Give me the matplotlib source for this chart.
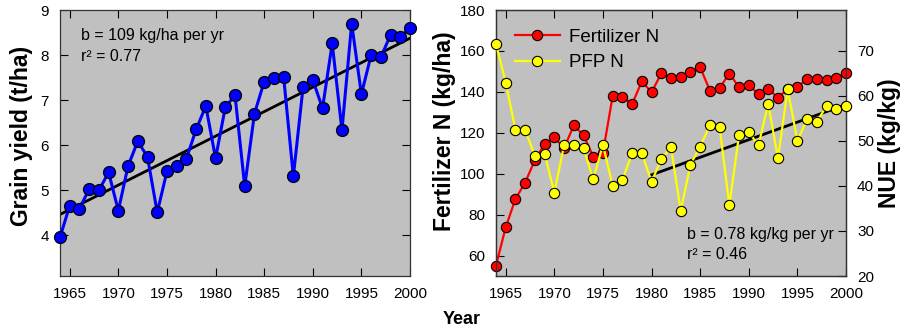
import numpy as np
import matplotlib
matplotlib.use("Agg")
import matplotlib.pyplot as plt

plt.rcParams['font.family'] = ['Liberation Sans', 'DejaVu Sans']

years = list(range(1964, 2001))

# grain yield (t/ha)
grain_yield = [3.96, 4.66, 4.59, 5.03, 5.00, 5.40, 4.55, 5.54, 6.09, 5.74,
               4.51, 5.42, 5.53, 5.70, 6.35, 6.87, 5.71, 6.84, 7.11, 5.09,
               6.70, 7.41, 7.50, 7.52, 5.31, 7.29, 7.45, 6.82, 8.26, 6.33,
               8.70, 7.13, 8.00, 7.95, 8.45, 8.41, 8.60]

# fertilizer N (kg/ha)
fert_n = [55.3, 74.0, 87.8, 95.8, 106.8, 114.6, 117.9, 112.6, 123.7, 118.9,
          108.5, 110.4, 138.0, 137.7, 134.1, 145.2, 139.8, 149.1, 146.8, 147.2,
          149.9, 152.0, 140.7, 142.0, 149.0, 142.3, 143.4, 138.9, 141.5, 137.2,
          141.5, 142.6, 146.2, 146.3, 146.0, 146.8, 149.4]

# partial factor productivity of N (kg/kg)
pfp_n = [71.5, 62.9, 52.4, 52.4, 46.6, 47.1, 38.5, 49.0, 49.1, 48.3,
         41.5, 49.1, 40.0, 41.3, 47.2, 47.2, 40.9, 45.9, 48.6, 34.5,
         44.7, 48.7, 53.4, 53.0, 35.7, 51.3, 51.9, 49.0, 58.2, 46.1,
         61.4, 50.0, 54.8, 54.2, 57.7, 57.1, 57.7]

x_ticks = [1965, 1970, 1975, 1980, 1985, 1990, 1995, 2000]
bg = '#c0c0c0'

fig = plt.figure(figsize=(9.03, 3.32), dpi=100)

# ---- left panel: grain yield
ax1 = fig.add_axes([60/903, 1 - 276/332, 350/903, 266/332])
ax1.set_facecolor(bg)
yrs = np.array(years)
b, a = np.polyfit(yrs, grain_yield, 1)
ax1.plot([1964, 2000], [a + b*1964, a + b*2000], color='black', lw=2, zorder=2)
ax1.plot(years, grain_yield, color='#0000ff', lw=2.2, marker='o', ms=8.6,
         mfc='#0000ff', mec='black', mew=0.9, clip_on=False, zorder=3)
ax1.set_xlim(1964, 2000)
ax1.set_ylim(3.1, 9)
ax1.set_xticks(x_ticks)
ax1.set_yticks([4, 5, 6, 7, 8, 9])
ax1.tick_params(direction='in', length=6, width=0.8, top=True, right=True,
                labelsize=11, pad=8)
ax1.text(0.06, 0.905, 'b = 109 kg/ha per yr', transform=ax1.transAxes,
         fontsize=11.5, va='center')
ax1.text(0.06, 0.825, 'r\u00b2 = 0.77', transform=ax1.transAxes,
         fontsize=11.5, va='center')

# ---- right panel: fertilizer N and PFP N
ax2 = fig.add_axes([496/903, 1 - 276/332, 350/903, 266/332])
ax2.set_facecolor(bg)
h1, = ax2.plot(years, fert_n, color='#ff0000', lw=1.6, marker='o', ms=7.4,
               mfc='#ff0000', mec='black', mew=0.8, clip_on=False, zorder=3)
ax2.set_xlim(1964, 2000)
ax2.set_ylim(50.2, 180)
ax2.set_xticks(x_ticks)
ax2.set_yticks([60, 80, 100, 120, 140, 160, 180])
ax2.tick_params(direction='in', length=6, width=0.8, top=True,
                labelsize=11, pad=8)

ax3 = ax2.twinx()
late = yrs >= 1980
b2, a2 = np.polyfit(yrs[late], np.array(pfp_n)[late], 1)
ax3.plot([1980, 2000], [a2 + b2*1980, a2 + b2*2000], color='black', lw=2, zorder=2)
h2, = ax3.plot(years, pfp_n, color='#ffff00', lw=1.6, marker='o', ms=7.4,
               mfc='#ffff00', mec='black', mew=0.8, clip_on=False, zorder=3)
ax3.set_ylim(20, 79)
ax3.set_yticks([20, 30, 40, 50, 60, 70])
ax3.tick_params(direction='in', length=6, width=0.8, labelsize=11, pad=8)
ax3.text(0.545, 0.155, 'b = 0.78 kg/kg per yr', transform=ax3.transAxes,
         fontsize=11.5, va='center')
ax3.text(0.545, 0.08, 'r\u00b2 = 0.46', transform=ax3.transAxes,
         fontsize=11.5, va='center')

leg = ax3.legend([h1, h2], ['Fertilizer N', 'PFP N'], loc='upper left',
                 frameon=False, fontsize=13.5, handlelength=2.4,
                 borderaxespad=0.6, labelspacing=0.45, handletextpad=0.5)

for ax in (ax1, ax2, ax3):
    for s in ax.spines.values():
        s.set_color('#333333')
        s.set_linewidth(0.9)

# axis titles placed in figure pixels
lab = dict(fontsize=16.5, fontweight='bold', rotation=90, ha='center', va='center')
fig.text(22/903, 1 - 136/332, 'Grain yield (t/ha)', **lab)
fig.text(445/903, 1 - 131/332, 'Fertilizer N (kg/ha)', **lab)
fig.text(890/903, 1 - 143/332, 'NUE (kg/kg)', **lab)
fig.text(462/903, 1 - 320/332, 'Year', fontsize=13, fontweight='bold',
         ha='center', va='center')

fig.savefig('out.png', dpi=100)
